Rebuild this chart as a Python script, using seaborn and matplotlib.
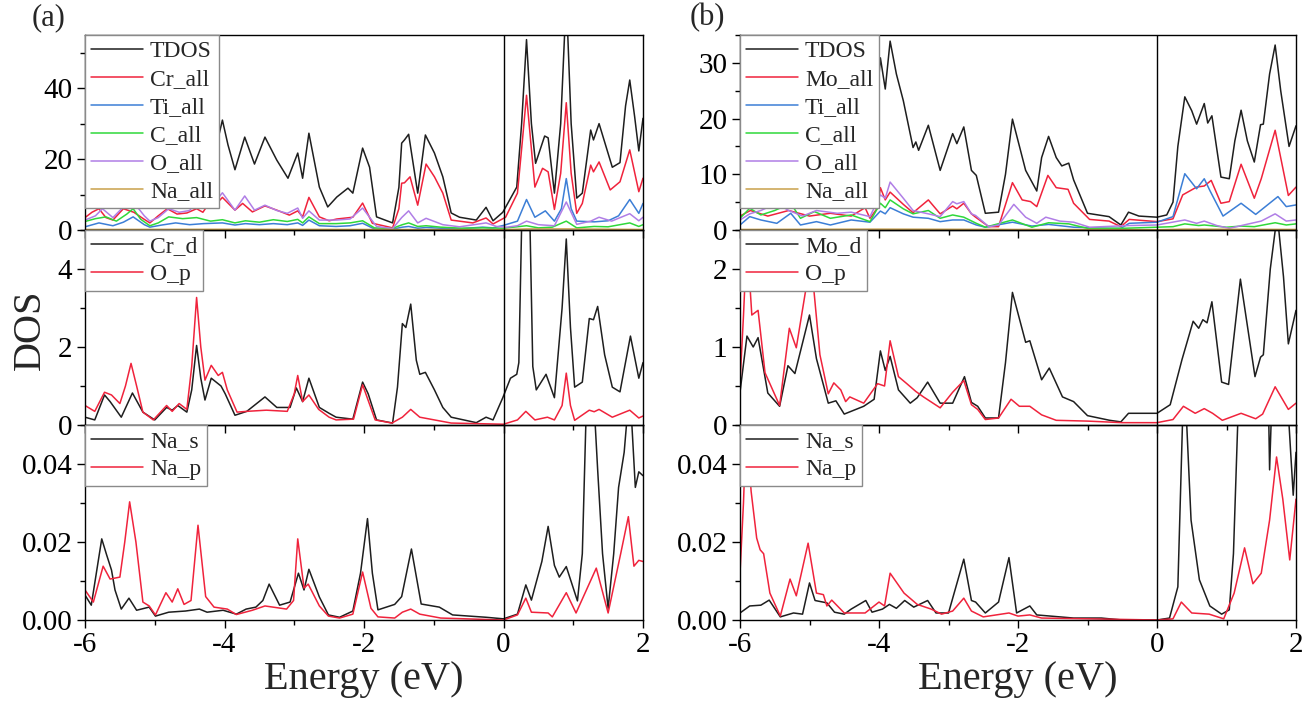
import matplotlib
matplotlib.use('Agg')
import matplotlib.pyplot as plt
import seaborn as sns
from matplotlib.ticker import MultipleLocator, FormatStrFormatter

# ---------------- (a) top panel: total / atom-projected DOS ----------------
a_tdos_e = [-6.0, -5.85, -5.75, -5.6, -5.45, -5.35, -5.2, -5.05, -4.9, -4.75,
            -4.6, -4.45, -4.3, -4.21, -4.14, -4.03, -3.95, -3.85, -3.71, -3.57,
            -3.42, -3.25, -3.09, -2.95, -2.88, -2.79, -2.64, -2.52, -2.39, -2.23,
            -2.16, -2.02, -1.92, -1.82, -1.59, -1.5, -1.46, -1.42, -1.36, -1.23,
            -1.12, -0.99, -0.87, -0.75, -0.63, -0.39, -0.25, -0.15, -0.01, 0.19,
            0.26, 0.33, 0.40, 0.46, 0.59, 0.64, 0.73, 0.82, 0.90, 0.97,
            1.05, 1.13, 1.25, 1.29, 1.37, 1.56, 1.67, 1.75, 1.81, 1.88,
            1.94, 2.0]
a_tdos = [18, 26, 22, 25, 30, 24, 20, 14, 19, 24,
          20, 27, 22, 24.5, 21.7, 31, 24, 17, 26.2, 18.6,
          26.2, 19.7, 14.6, 21.7, 14.6, 27.3, 12.1, 6.5, 9.3, 11.8,
          10.4, 23.1, 17.7, 3.7, 2.0, 12, 24.5, 25.4, 27, 10.4,
          26.8, 21.7, 15, 4.8, 3.6, 2.8, 6.4, 2.6, 5, 12.1,
          30, 53.7, 30, 18.8, 26.5, 26, 10.4, 30, 66, 30,
          9, 10.4, 28.2, 25.4, 30, 17.7, 19, 35, 42.3, 32,
          22.3, 31.5]

a_cr_e = [-6.0, -5.9, -5.8, -5.7, -5.6, -5.45, -5.3, -5.15, -5.07, -4.95,
          -4.82, -4.68, -4.54, -4.4, -4.31, -4.24, -4.17, -4.03, -3.85, -3.74,
          -3.6, -3.42, -3.25, -3.07, -2.95, -2.88, -2.79, -2.64, -2.5, -2.39,
          -2.16, -2.02, -1.88, -1.59, -1.5, -1.46, -1.42, -1.34, -1.23, -1.11,
          -0.99, -0.87, -0.75, -0.44, -0.25, -0.15, 0.03, 0.2, 0.27, 0.33,
          0.39, 0.45, 0.56, 0.64, 0.73, 0.82, 0.9, 0.97, 1.05, 1.13,
          1.25, 1.29, 1.37, 1.53, 1.67, 1.81, 1.94, 2.0]
a_cr = [3.5, 5, 6, 3.5, 2.8, 6, 5, 3, 2.0, 4,
        6, 4.5, 4.8, 6, 5, 7, 6.2, 9.2, 5.6, 7.5,
        5.1, 6.8, 5.6, 4.2, 5.4, 3.7, 9.2, 3.7, 2.6, 3.1,
        3.6, 7.6, 1.9, 0.6, 6, 13.2, 13.3, 15, 7.0, 18.6,
        15, 10.4, 2.8, 2.0, 3.4, 1.7, 3.6, 10.4, 25, 38,
        25, 12.1, 17.4, 16.4, 5.8, 16, 35.9, 16, 4.7, 7.5,
        18.3, 16.4, 19.2, 11.3, 13.6, 22.6, 10.8, 14.6]

a_ti_e = [-6.0, -5.8, -5.6, -5.45, -5.31, -5.15, -5.07, -4.9, -4.7, -4.5,
          -4.3, -4.03, -3.85, -3.7, -3.5, -3.3, -3.1, -2.95, -2.88, -2.79,
          -2.64, -2.4, -2.2, -2.02, -1.85, -1.6, -1.45, -1.36, -1.23, -1.11,
          -0.9, -0.6, -0.3, -0.15, 0.0, 0.2, 0.33, 0.45, 0.6, 0.73,
          0.83, 0.9, 0.97, 1.05, 1.3, 1.5, 1.65, 1.81, 1.94, 2.0]
a_ti = [0.9, 2.0, 1.2, 2.2, 3.7, 1.5, 0.8, 1.4, 2.0, 1.5,
        1.8, 2.0, 1.4, 1.8, 1.5, 1.8, 1.5, 2.0, 1.3, 2.8,
        1.2, 1.0, 1.2, 1.9, 0.3, 0.2, 0.8, 1.0, 0.5, 0.7,
        0.5, 0.4, 0.8, 0.6, 1.3, 2.5, 8.6, 3.6, 5.4, 2.5,
        6, 14.5, 6, 2.5, 2.3, 2.6, 4, 8.6, 4.7, 7.5]

a_c_e = [-6.0, -5.85, -5.7, -5.55, -5.4, -5.31, -5.2, -5.07, -4.95, -4.8,
         -4.6, -4.4, -4.2, -4.03, -3.85, -3.7, -3.5, -3.3, -3.1, -2.95,
         -2.88, -2.79, -2.64, -2.4, -2.2, -2.02, -1.85, -1.6, -1.45, -1.36,
         -1.23, -1.11, -0.9, -0.6, -0.3, 0.0, 0.33, 0.5, 0.7, 0.9,
         1.05, 1.3, 1.5, 1.81, 1.94, 2.0]
a_c = [2.4, 3.2, 3.7, 2.5, 4.5, 6.0, 3.0, 1.2, 2.0, 3.7,
       3.2, 3.5, 2.5, 2.9, 2.0, 2.6, 2.2, 2.9, 2.4, 3.0,
       2.0, 3.7, 1.8, 1.8, 2.0, 2.6, 0.6, 0.4, 1.5, 2.0,
       1.0, 1.2, 0.8, 0.5, 0.6, 0.5, 1.2, 0.6, 0.8, 2.5,
       0.6, 1.0, 0.9, 2.0, 1.0, 1.5]

a_o_e = [-6.0, -5.85, -5.75, -5.6, -5.45, -5.31, -5.15, -5.07, -4.95, -4.8,
         -4.65, -4.5, -4.4, -4.3, -4.17, -4.03, -3.85, -3.71, -3.57, -3.42,
         -3.25, -3.1, -2.95, -2.88, -2.79, -2.64, -2.39, -2.2, -2.02, -1.82,
         -1.59, -1.46, -1.36, -1.23, -1.11, -0.87, -0.63, -0.25, -0.1, 0.05,
         0.2, 0.33, 0.5, 0.73, 0.9, 1.05, 1.25, 1.37, 1.55, 1.81,
         1.94, 2.0]
a_o = [2.8, 4.0, 6.0, 3.5, 6.5, 8.0, 4.0, 2.5, 3.5, 6.0,
       5.0, 5.5, 8.0, 6.5, 7.0, 10.5, 5.6, 9.6, 5.6, 7.0,
       5.5, 4.7, 6.2, 3.3, 5.4, 2.8, 2.8, 3.1, 6.2, 1.0,
       0.4, 3.5, 5.4, 2.0, 3.3, 1.5, 0.9, 2.0, 1.0, 0.8,
       1.2, 2.5, 1.5, 1.2, 7.9, 1.6, 2.5, 3.6, 2.5, 4.6,
       2.6, 3.6]

a_na_e = [-6.0, -4.0, -2.0, 0.0, 0.33, 0.9, 2.0]
a_na = [0.15, 0.2, 0.15, 0.1, 0.3, 0.3, 0.15]

# ---------------- (a) middle panel: Cr_d / O_p ----------------
a_crd_e = [-6.0, -5.86, -5.72, -5.64, -5.48, -5.32, -5.17, -5.0, -4.83, -4.75,
           -4.67, -4.54, -4.47, -4.40, -4.34, -4.28, -4.19, -4.05, -3.99, -3.85,
           -3.68, -3.42, -3.25, -3.06, -2.97, -2.88, -2.79, -2.64, -2.5, -2.4,
           -2.16, -2.02, -1.94, -1.82, -1.59, -1.52, -1.45, -1.40, -1.33, -1.25,
           -1.2, -1.12, -0.99, -0.87, -0.75, -0.39, -0.25, -0.15, -0.01, 0.1,
           0.19, 0.22, 0.27, 0.32, 0.37, 0.42, 0.47, 0.61, 0.73, 0.84,
           0.90, 0.96, 1.02, 1.13, 1.23, 1.29, 1.35, 1.45, 1.56, 1.67,
           1.82, 1.94, 2.0]
a_crd = [0.2, 0.13, 0.77, 0.6, 0.2, 0.82, 0.33, 0.13, 0.45, 0.38,
         0.5, 0.33, 0.9, 2.04, 1.2, 0.64, 1.2, 1.0, 0.8, 0.25,
         0.35, 0.72, 0.45, 0.45, 0.95, 0.6, 1.2, 0.45, 0.3, 0.2,
         0.15, 1.1, 0.8, 0.13, 0.05, 0.97, 2.6, 2.5, 3.1, 1.66,
         1.3, 1.35, 0.9, 0.45, 0.2, 0.06, 0.2, 0.13, 0.7, 1.2,
         1.3, 1.6, 6.0, 9.0, 6.0, 1.5, 0.9, 1.3, 0.7, 3.0,
         4.77, 2.5, 0.97, 1.1, 2.73, 2.7, 3.04, 1.8, 0.97, 0.85,
         2.28, 1.2, 1.6]

a_op_e = [-6.0, -5.86, -5.72, -5.62, -5.5, -5.42, -5.34, -5.26, -5.17, -5.02,
          -4.83, -4.75, -4.65, -4.54, -4.47, -4.40, -4.34, -4.28, -4.19, -4.09,
          -4.03, -3.96, -3.82, -3.68, -3.4, -3.1, -3.0, -2.95, -2.88, -2.79,
          -2.65, -2.5, -2.4, -2.15, -2.02, -1.84, -1.6, -1.45, -1.33, -1.2,
          -0.99, -0.75, 0.0, 0.2, 0.32, 0.45, 0.63, 0.73, 0.84, 0.9,
          0.96, 1.02, 1.23, 1.3, 1.37, 1.56, 1.81, 1.94, 2.0]
a_op = [0.5, 0.35, 0.84, 0.77, 0.55, 1.0, 1.58, 1.0, 0.33, 0.13,
        0.5, 0.35, 0.55, 0.4, 1.5, 3.27, 2.0, 1.15, 1.53, 1.27,
        1.35, 0.9, 0.33, 0.35, 0.38, 0.35, 0.8, 1.27, 0.6, 0.77,
        0.4, 0.2, 0.13, 0.15, 1.03, 0.13, 0.05, 0.2, 0.4, 0.2,
        0.13, 0.05, 0.02, 0.13, 0.35, 0.13, 0.2, 0.13, 0.5, 1.33,
        0.5, 0.12, 0.38, 0.34, 0.4, 0.2, 0.38, 0.18, 0.23]

# ---------------- (a) bottom panel: Na_s / Na_p ----------------
a_nas_e = [-6.0, -5.91, -5.76, -5.69, -5.62, -5.57, -5.48, -5.37, -5.26, -5.08,
           -4.99, -4.8, -4.56, -4.36, -4.25, -4.02, -3.83, -3.69, -3.55, -3.45,
           -3.36, -3.21, -3.06, -2.94, -2.86, -2.79, -2.64, -2.51, -2.35, -2.16,
           -2.05, -1.95, -1.88, -1.8, -1.56, -1.46, -1.32, -1.18, -0.92, -0.73,
           -0.25, 0.0, 0.2, 0.32, 0.4, 0.55, 0.64, 0.73, 0.8, 0.9,
           1.06, 1.13, 1.18, 1.24, 1.3, 1.35, 1.42, 1.5, 1.58, 1.65,
           1.73, 1.81, 1.89, 1.94, 2.0]
a_nas = [0.0064, 0.0038, 0.0208, 0.0167, 0.0128, 0.0077, 0.0028, 0.0056, 0.0025, 0.0033,
         0.001, 0.002, 0.0023, 0.0028, 0.002, 0.0025, 0.0015, 0.0028, 0.0033, 0.005,
         0.0092, 0.0038, 0.0046, 0.012, 0.0077, 0.013, 0.0059, 0.0013, 0.0007, 0.0023,
         0.012, 0.026, 0.012, 0.0026, 0.004, 0.006, 0.0182, 0.0041, 0.0033, 0.0013,
         0.0007, 0.0003, 0.0015, 0.009, 0.0051, 0.015, 0.024, 0.014, 0.011, 0.0137,
         0.0049, 0.017, 0.05, 0.07, 0.055, 0.0385, 0.017, 0.003, 0.017, 0.034,
         0.043, 0.06, 0.034, 0.038, 0.037]

a_nap_e = [-6.0, -5.88, -5.74, -5.64, -5.5, -5.43, -5.36, -5.27, -5.17, -5.08,
           -4.99, -4.84, -4.75, -4.67, -4.58, -4.48, -4.38, -4.27, -4.15, -3.96,
           -3.83, -3.6, -3.42, -3.11, -3.01, -2.95, -2.86, -2.8, -2.64, -2.51,
           -2.35, -2.16, -2.02, -1.9, -1.8, -1.56, -1.45, -1.33, -1.2, -0.9,
           0.0, 0.2, 0.32, 0.4, 0.64, 0.7, 0.9, 1.04, 1.33, 1.5,
           1.68, 1.79, 1.87, 1.94, 2.0]
a_nap = [0.0077, 0.0046, 0.0138, 0.0105, 0.011, 0.02, 0.0303, 0.02, 0.0046, 0.0036,
         0.0013, 0.007, 0.0046, 0.008, 0.004, 0.005, 0.0243, 0.006, 0.0033, 0.0028,
         0.0014, 0.0025, 0.0036, 0.0028, 0.005, 0.0208, 0.0082, 0.0092, 0.0036, 0.001,
         0.0005, 0.0015, 0.0123, 0.003, 0.0008, 0.0005, 0.002, 0.0028, 0.0015, 0.0005,
         0.0, 0.0013, 0.0056, 0.002, 0.0018, 0.0008, 0.007, 0.0018, 0.0133, 0.0018,
         0.017, 0.0265, 0.0138, 0.0153, 0.015]

# ---------------- (b) top panel ----------------
b_tdos_e = [-6.0, -5.85, -5.7, -5.5, -5.3, -5.1, -4.9, -4.7, -4.5, -4.3,
            -4.16, -4.05, -3.98, -3.91, -3.84, -3.75, -3.65, -3.51, -3.47, -3.43,
            -3.29, -3.12, -2.94, -2.88, -2.78, -2.67, -2.6, -2.47, -2.28, -2.18,
            -2.08, -1.89, -1.73, -1.66, -1.56, -1.45, -1.37, -1.27, -1.2, -1.0,
            -0.69, -0.52, -0.41, -0.26, 0.0, 0.14, 0.23, 0.3, 0.40, 0.5,
            0.57, 0.68, 0.73, 0.79, 0.92, 1.04, 1.12, 1.21, 1.30, 1.40,
            1.49, 1.53, 1.62, 1.70, 1.78, 1.9, 2.0]
b_tdos = [8, 12, 10, 13, 9, 11, 8, 10, 9, 8,
          11.3, 20, 30.9, 25.3, 33.9, 28, 23.2, 14.8, 15.8, 14.3,
          18.8, 10.7, 17.3, 15.5, 18.5, 10.7, 9.8, 3.0, 3.2, 10,
          19.9, 10.7, 7.0, 13, 16.8, 13, 11.5, 12, 9.0, 3.0,
          2.4, 0.9, 3.2, 2.5, 2.3, 2.7, 5, 15, 23.9, 21.4,
          19, 22.7, 19.2, 20.5, 9.5, 9.2, 16, 21.5, 16, 12.2,
          18.9, 19, 28, 33.2, 25, 15, 18.7]

b_mo_e = [-6.0, -5.85, -5.6, -5.3, -5.0, -4.7, -4.4, -4.2, -4.13, -4.02,
          -3.98, -3.91, -3.84, -3.65, -3.51, -3.29, -3.12, -2.94, -2.88, -2.78,
          -2.67, -2.61, -2.42, -2.28, -2.08, -1.94, -1.82, -1.73, -1.57, -1.45,
          -1.28, -1.2, -0.97, -0.69, -0.52, -0.4, 0.0, 0.23, 0.37, 0.57,
          0.68, 0.78, 0.92, 1.04, 1.21, 1.40, 1.50, 1.70, 1.89, 2.0]
b_mo = [2.5, 3.5, 2.5, 3.5, 2.5, 3.0, 2.5, 4.0, 2.1, 4.0,
        7.6, 5.4, 6.8, 4.6, 3.1, 5.4, 2.9, 4.3, 3.8, 4.8,
        2.9, 2.3, 0.6, 0.6, 8.5, 5.4, 5.1, 4.2, 9.8, 7.6,
        7.3, 4.8, 1.9, 1.6, 0.6, 1.9, 1.5, 2.0, 6.3, 7.7,
        7.9, 8.9, 4.8, 5.1, 11.8, 5.7, 9.2, 17.9, 6.2, 7.7]

b_ti_e = [-6.0, -5.86, -5.7, -5.47, -5.27, -5.13, -4.9, -4.7, -4.4, -4.13,
          -3.98, -3.91, -3.84, -3.65, -3.51, -3.29, -3.12, -2.94, -2.78, -2.6,
          -2.47, -2.08, -1.8, -1.56, -1.2, -0.69, -0.52, -0.4, 0.0, 0.23,
          0.4, 0.57, 0.68, 0.76, 0.95, 1.21, 1.42, 1.57, 1.74, 1.86,
          2.0]
b_ti = [0.9, 2.4, 1.8, 1.2, 3.0, 0.9, 1.5, 0.9, 1.8, 1.4,
        3.4, 2.9, 4.0, 2.9, 2.3, 2.1, 1.5, 1.8, 1.8, 0.9,
        0.5, 1.4, 0.7, 1.0, 0.5, 0.3, 0.3, 1.2, 1.4, 2.4,
        10.1, 7.4, 9.2, 7.1, 2.5, 4.8, 2.8, 4.3, 6.0, 4.2,
        4.5]

b_c_e = [-6.0, -5.86, -5.7, -5.5, -5.27, -5.13, -4.93, -4.7, -4.4, -4.13,
         -3.98, -3.91, -3.84, -3.65, -3.51, -3.29, -3.12, -2.94, -2.78, -2.6,
         -2.47, -2.08, -1.8, -1.56, -1.27, -1.0, -0.5, 0.0, 0.23, 0.4,
         0.6, 0.68, 1.0, 1.21, 1.4, 1.7, 1.86, 2.0]
b_c = [2.1, 3.9, 2.7, 3.5, 4.8, 2.1, 3.3, 2.1, 2.7, 1.5,
       4.8, 4.0, 5.4, 3.8, 2.9, 3.5, 2.1, 2.7, 2.3, 1.2,
       0.5, 1.8, 0.5, 1.3, 1.1, 0.3, 0.3, 0.5, 0.6, 1.1,
       0.8, 0.9, 0.5, 0.7, 0.6, 1.3, 0.9, 1.1]

b_o_e = [-6.0, -5.86, -5.7, -5.47, -5.3, -5.1, -4.9, -4.6, -4.4, -4.13,
         -3.98, -3.91, -3.84, -3.65, -3.51, -3.29, -3.12, -2.94, -2.88, -2.78,
         -2.67, -2.61, -2.42, -2.28, -2.06, -1.89, -1.73, -1.6, -1.4, -1.2,
         -0.97, -0.4, 0.0, 0.4, 0.57, 0.68, 0.86, 1.04, 1.25, 1.5,
         1.7, 1.86, 2.0]
b_o = [1.8, 2.9, 3.5, 4.8, 3.5, 2.5, 3.5, 3.0, 3.2, 2.4,
       6.3, 5.7, 8.6, 5.7, 3.5, 2.9, 2.4, 5.1, 4.7, 5.1,
       2.9, 2.6, 0.6, 0.9, 4.6, 2.3, 1.2, 2.3, 1.6, 1.4,
       0.5, 0.8, 0.9, 1.8, 1.2, 1.6, 0.8, 0.3, 0.9, 1.6,
       2.9, 1.6, 1.8]

b_na_e = [-6.0, -4.0, -2.0, 0.0, 0.4, 2.0]
b_na = [0.1, 0.15, 0.1, 0.05, 0.15, 0.1]

# ---------------- (b) middle panel: Mo_d / O_p ----------------
b_mod_e = [-6.0, -5.9, -5.81, -5.74, -5.6, -5.43, -5.31, -5.21, -5.0, -4.9,
           -4.73, -4.62, -4.5, -4.22, -4.07, -3.98, -3.91, -3.84, -3.72, -3.55,
           -3.45, -3.3, -3.12, -2.94, -2.77, -2.67, -2.58, -2.47, -2.28, -2.18,
           -2.08, -1.89, -1.83, -1.66, -1.55, -1.36, -1.2, -1.0, -0.68, -0.52,
           -0.41, 0.0, 0.19, 0.36, 0.52, 0.6, 0.66, 0.72, 0.79, 0.93,
           1.03, 1.2, 1.41, 1.49, 1.53, 1.63, 1.73, 1.82, 1.89, 2.0]
b_mod = [0.42, 1.14, 1.0, 1.12, 0.41, 0.24, 0.76, 0.66, 1.41, 0.85,
         0.28, 0.31, 0.14, 0.24, 0.33, 0.95, 0.7, 0.88, 0.45, 0.28,
         0.35, 0.55, 0.28, 0.28, 0.62, 0.29, 0.24, 0.09, 0.09, 0.8,
         1.7, 1.06, 1.08, 0.58, 0.73, 0.36, 0.3, 0.12, 0.06, 0.04,
         0.15, 0.15, 0.26, 0.84, 1.33, 1.24, 1.35, 1.31, 1.58, 0.55,
         0.52, 1.87, 0.62, 0.87, 0.9, 2.0, 2.7, 1.9, 1.04, 1.47]

b_op_e = [-6.0, -5.95, -5.9, -5.83, -5.74, -5.64, -5.43, -5.29, -5.19, -5.06,
          -4.96, -4.85, -4.73, -4.65, -4.55, -4.48, -4.42, -4.22, -4.02, -3.92,
          -3.84, -3.72, -3.6, -3.47, -3.36, -3.12, -2.94, -2.78, -2.67, -2.58,
          -2.47, -2.28, -2.1, -1.98, -1.83, -1.66, -1.45, -1.0, -0.5, 0.0,
          0.23, 0.38, 0.55, 0.68, 0.8, 0.94, 1.21, 1.42, 1.52, 1.70,
          1.89, 2.0]
b_op = [0.54, 1.4, 2.4, 1.41, 1.47, 0.67, 0.25, 1.24, 0.99, 1.7,
        1.95, 0.9, 0.4, 0.54, 0.45, 0.3, 0.36, 0.28, 0.53, 0.5,
        1.08, 0.62, 0.53, 0.43, 0.36, 0.22, 0.42, 0.57, 0.26, 0.2,
        0.07, 0.09, 0.33, 0.24, 0.24, 0.13, 0.06, 0.05, 0.03, 0.03,
        0.07, 0.24, 0.15, 0.21, 0.15, 0.06, 0.15, 0.08, 0.14, 0.49,
        0.2, 0.28]

# ---------------- (b) bottom panel: Na_s / Na_p ----------------
b_nas_e = [-6.0, -5.86, -5.7, -5.58, -5.42, -5.23, -5.1, -5.0, -4.92, -4.75,
           -4.64, -4.5, -4.4, -4.19, -4.1, -3.95, -3.85, -3.75, -3.63, -3.5,
           -3.3, -3.18, -3.0, -2.78, -2.67, -2.61, -2.47, -2.28, -2.13, -2.02,
           -1.83, -1.73, -1.2, -0.8, -0.5, 0.0, 0.18, 0.3, 0.39, 0.49,
           0.61, 0.76, 0.93, 1.04, 1.1, 1.17, 1.3, 1.5, 1.6, 1.62,
           1.65, 1.8, 1.9, 1.96, 2.0]
b_nas = [0.0018, 0.0036, 0.0038, 0.0051, 0.0008, 0.0018, 0.0015, 0.0095, 0.005, 0.0044,
         0.002, 0.0015, 0.0028, 0.005, 0.002, 0.0028, 0.004, 0.003, 0.005, 0.0033,
         0.005, 0.0018, 0.0018, 0.0156, 0.005, 0.0046, 0.0018, 0.0046, 0.016, 0.0018,
         0.0036, 0.0013, 0.0005, 0.0005, 0.0, 0.0, 0.0005, 0.0085, 0.065, 0.0256,
         0.0103, 0.0036, 0.0015, 0.0026, 0.017, 0.055, 0.09, 0.09, 0.06, 0.0385,
         0.055, 0.08, 0.05, 0.032, 0.043]

b_nap_e = [-6.0, -5.95, -5.91, -5.84, -5.76, -5.71, -5.66, -5.57, -5.42, -5.28,
           -5.19, -5.02, -4.9, -4.8, -4.75, -4.68, -4.5, -4.2, -4.0, -3.92,
           -3.84, -3.64, -3.45, -3.25, -3.1, -2.94, -2.78, -2.67, -2.5, -2.13,
           -2.0, -1.83, -1.66, -1.0, 0.0, 0.23, 0.35, 0.5, 0.75, 0.96,
           1.11, 1.26, 1.38, 1.5, 1.62, 1.72, 1.81, 1.91, 2.0]
b_nap = [0.012, 0.03, 0.05, 0.033, 0.021, 0.018, 0.017, 0.0069, 0.001, 0.0105,
         0.0062, 0.0197, 0.0069, 0.0065, 0.0036, 0.0051, 0.0018, 0.0018, 0.0046, 0.0036,
         0.012, 0.0069, 0.004, 0.0028, 0.0015, 0.0023, 0.0056, 0.0023, 0.0008, 0.0018,
         0.001, 0.0013, 0.0005, 0.0003, 0.0, 0.0003, 0.0046, 0.0018, 0.0015, 0.0003,
         0.0069, 0.0185, 0.0093, 0.012, 0.0256, 0.0418, 0.031, 0.0154, 0.031]

# colours
BLACK = '#1e1e1e'
RED = '#f0233c'
BLUE = '#3c7ed6'
GREEN = '#2fd83a'
PURPLE = '#b07ee6'
GOLD = '#c9a04a'

sns.set_style('ticks')
plt.rcParams['font.family'] = ['Liberation Serif', 'DejaVu Serif']
plt.rcParams['axes.unicode_minus'] = False

fig = plt.figure(figsize=(13.05, 7.09), dpi=100)
fig.patch.set_facecolor('white')

col_left = [85 / 1305, 740 / 1305]
col_width = [558 / 1305, 556 / 1305]
row_h = 195 / 709
row_bottom = [1 - 230 / 709, 1 - 425 / 709, 1 - 620 / 709]


def line(ax, e, v, color, label):
    sns.lineplot(x=e, y=v, ax=ax, color=color, lw=1.1, label=label,
                 estimator=None, sort=False)


def style(ax, ylim, major, minor, fmt, bottom_row):
    ax.set_facecolor('none')
    ax.set_xlim(-6, 2)
    ax.set_ylim(*ylim)
    ax.xaxis.set_major_locator(MultipleLocator(2))
    ax.xaxis.set_minor_locator(MultipleLocator(1))
    ax.yaxis.set_major_locator(MultipleLocator(major))
    ax.yaxis.set_minor_locator(MultipleLocator(minor))
    ax.yaxis.set_major_formatter(FormatStrFormatter(fmt))
    ax.tick_params(which='both', direction='out', top=False, right=False,
                   width=1.0, labelsize=21, colors='black', pad=3)
    ax.tick_params(which='major', length=6)
    ax.tick_params(which='minor', length=3.5)
    if not bottom_row:
        ax.tick_params(axis='x', labelbottom=False)
    for s in ax.spines.values():
        s.set_visible(True)
        s.set_linewidth(1.0)
        s.set_color('black')
    ax.axvline(0, color='black', lw=1.0)
    ax.set_xlabel('')
    ax.set_ylabel('')
    leg = ax.legend(loc='upper left', borderaxespad=0, fancybox=False,
                    edgecolor='#8a8a8a', framealpha=1, fontsize=17,
                    handlelength=2.2, handletextpad=0.3, labelspacing=0.27,
                    borderpad=0.25)
    leg.get_frame().set_linewidth(1.0)


panels = [
    # (a)
    [[(a_tdos_e, a_tdos, BLACK, 'TDOS'), (a_cr_e, a_cr, RED, 'Cr_all'),
      (a_ti_e, a_ti, BLUE, 'Ti_all'), (a_c_e, a_c, GREEN, 'C_all'),
      (a_o_e, a_o, PURPLE, 'O_all'), (a_na_e, a_na, GOLD, 'Na_all')],
     [(a_crd_e, a_crd, BLACK, 'Cr_d'), (a_op_e, a_op, RED, 'O_p')],
     [(a_nas_e, a_nas, BLACK, 'Na_s'), (a_nap_e, a_nap, RED, 'Na_p')]],
    # (b)
    [[(b_tdos_e, b_tdos, BLACK, 'TDOS'), (b_mo_e, b_mo, RED, 'Mo_all'),
      (b_ti_e, b_ti, BLUE, 'Ti_all'), (b_c_e, b_c, GREEN, 'C_all'),
      (b_o_e, b_o, PURPLE, 'O_all'), (b_na_e, b_na, GOLD, 'Na_all')],
     [(b_mod_e, b_mod, BLACK, 'Mo_d'), (b_op_e, b_op, RED, 'O_p')],
     [(b_nas_e, b_nas, BLACK, 'Na_s'), (b_nap_e, b_nap, RED, 'Na_p')]],
]

axis_cfg = [
    [((0, 55), 20, 10, '%d'), ((0, 5), 2, 1, '%d'), ((0, 0.05), 0.02, 0.01, '%.2f')],
    [((0, 35), 10, 5, '%d'), ((0, 2.5), 1, 0.5, '%d'), ((0, 0.05), 0.02, 0.01, '%.2f')],
]

for c in range(2):
    for r in range(3):
        ax = fig.add_axes([col_left[c], row_bottom[r], col_width[c], row_h])
        for e, v, color, label in panels[c][r]:
            line(ax, e, v, color, label)
        ylim, major, minor, fmt = axis_cfg[c][r]
        style(ax, ylim, major, minor, fmt, r == 2)

# panel labels and axis titles
fig.text(32 / 1305, 1 - 18 / 709, '(a)', fontsize=22, ha='left', va='center')
fig.text(690 / 1305, 1 - 18 / 709, '(b)', fontsize=22, ha='left', va='center')
fig.text(30 / 1305, 1 - 330 / 709, 'DOS', fontsize=29, rotation=90,
         ha='center', va='center')
fig.text(364 / 1305, 1 - 680 / 709, 'Energy (eV)', fontsize=29,
         ha='center', va='center')
fig.text(1018 / 1305, 1 - 680 / 709, 'Energy (eV)', fontsize=29,
         ha='center', va='center')

fig.savefig('out.png', dpi=100, facecolor='white')
